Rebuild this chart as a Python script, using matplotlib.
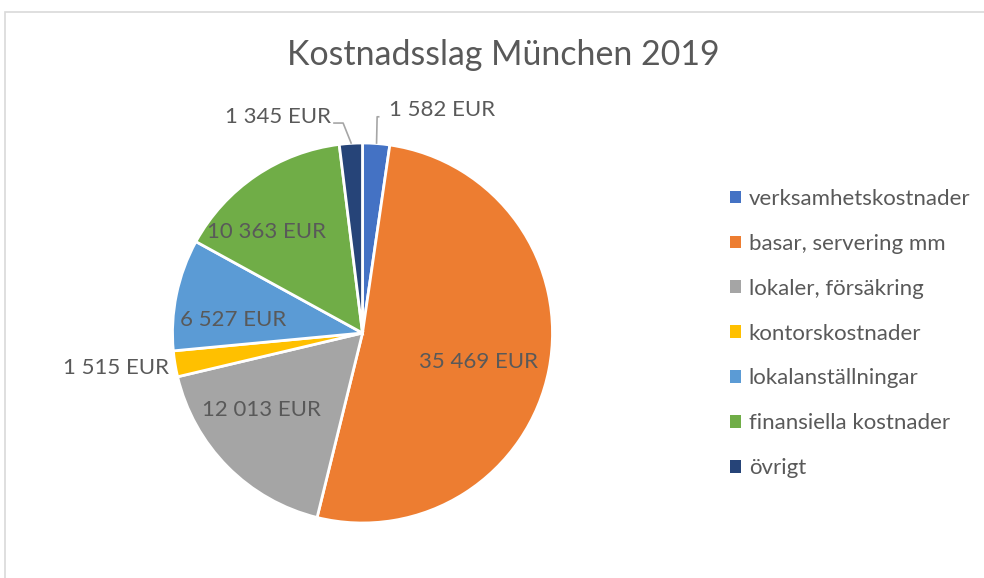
import matplotlib
matplotlib.use("Agg")
import matplotlib.pyplot as plt
from matplotlib.patches import Patch, Rectangle

# data
categories = ["verksamhetskostnader", "basar, servering mm", "lokaler, försäkring",
              "kontorskostnader", "lokalanställningar", "finansiella kostnader", "övrigt"]
values = [1582, 35469, 12013, 1515, 6527, 10363, 1345]
value_labels = ["1 582 EUR", "35 469 EUR", "12 013 EUR", "1 515 EUR",
                "6 527 EUR", "10 363 EUR", "1 345 EUR"]
colors = ["#4472C4", "#ED7D31", "#A5A5A5", "#FFC000", "#5B9BD5", "#70AD47", "#264478"]
title = "Kostnadsslag München 2019"

# label placement (pie units)
label_pos = [(0.42, 1.174), (0.608, -0.153), (-0.534, -0.405), (-1.297, -0.184),
             (-0.682, 0.068), (-0.503, 0.532), (-0.447, 1.137)]
# leader lines for the two small top slices (pie units)
leaders = {0: [(0.085, 1.138), (0.077, 1.138), (0.074, 1.0)],
           6: [(-0.15, 1.105), (-0.102, 1.105), (-0.06, 1.0)]}

txt = "#595959"
plt.rcParams["font.family"] = ["Lato", "DejaVu Sans"]

W, H = 984, 578
fig = plt.figure(figsize=(W / 100, H / 100), dpi=100, facecolor="white")

# chart area border
fig.patches.append(Rectangle((5 / W, -0.1), 1.2, 1 - 12 / H + 0.1, transform=fig.transFigure,
                             fill=False, edgecolor="#D9D9D9", linewidth=1.2))

cx, cy, r = 362.5, 578 - 333, 190
ax = fig.add_axes([(cx - r) / W, (cy - r) / H, 2 * r / W, 2 * r / H])
wedges, _ = ax.pie(values, colors=colors, startangle=90, counterclock=False,
                   wedgeprops=dict(edgecolor="white", linewidth=2))
ax.set_xlim(-1, 1)
ax.set_ylim(-1, 1)
ax.set_aspect("equal")
ax.axis("off")

for i, (lx, ly) in enumerate(label_pos):
    ax.text(lx, ly, value_labels[i], ha="center", va="center", fontsize=16,
            color=txt, clip_on=False)
for i, pts in leaders.items():
    xs, ys = zip(*pts)
    ax.plot(xs, ys, color="#A6A6A6", linewidth=1.2, clip_on=False)

fig.text(503 / W, 1 - 55 / H, title, ha="center", va="center", fontsize=24.4, color=txt)

handles = [Patch(facecolor=c, edgecolor="none") for c in colors]
fig.legend(handles, categories, loc="upper left", bbox_to_anchor=(721 / W, 1 - 180 / H),
           frameon=False, fontsize=16, labelcolor=txt, handlelength=0.5, handleheight=0.5,
           handletextpad=0.35, labelspacing=1.12, borderaxespad=0)

fig.savefig("out.png", dpi=100, facecolor="white")
